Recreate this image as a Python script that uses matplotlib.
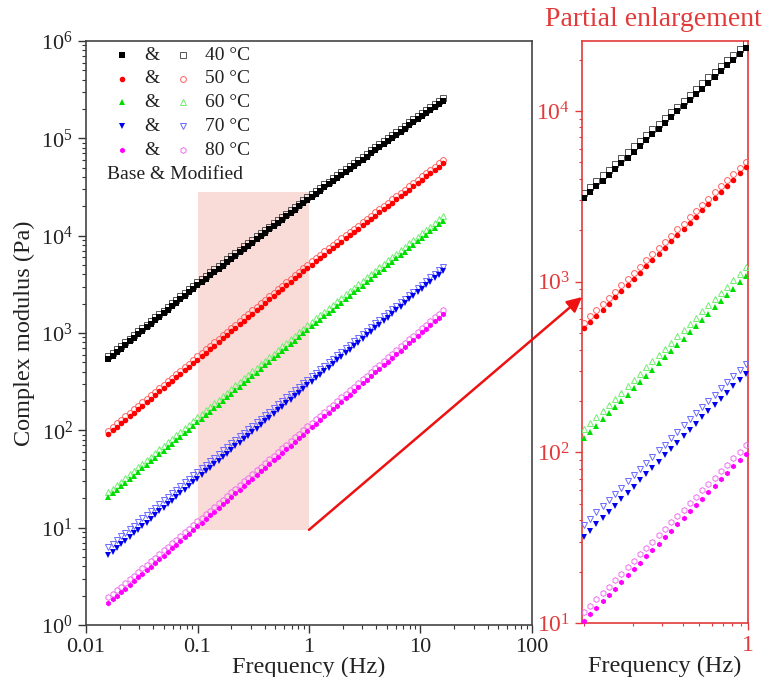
import matplotlib
matplotlib.use("Agg")
import matplotlib.pyplot as plt
from matplotlib.patches import Rectangle, ConnectionPatch
from matplotlib.ticker import LogLocator, NullFormatter, FixedLocator

plt.rcParams['font.family'] = ['Liberation Serif', 'DejaVu Serif']
plt.rcParams['mathtext.fontset'] = 'custom'
plt.rcParams['mathtext.rm'] = 'Liberation Serif'
plt.rcParams['mathtext.it'] = 'Liberation Serif:italic'

# frequency sweep (Hz)
freq = [0.0159, 0.01735, 0.01894, 0.02067, 0.02256, 0.02462, 0.02687, 0.02932, 0.032, 0.03493,
        0.03812, 0.0416, 0.0454, 0.04955, 0.05408, 0.05902, 0.06442, 0.0703, 0.07673, 0.08374,
        0.09139, 0.09974, 0.1089, 0.1188, 0.1297, 0.1415, 0.1544, 0.1685, 0.1839, 0.2008,
        0.2191, 0.2391, 0.261, 0.2848, 0.3108, 0.3392, 0.3702, 0.404, 0.441, 0.4813,
        0.5253, 0.5733, 0.6257, 0.6829, 0.7453, 0.8134, 0.8878, 0.969, 1.058, 1.154,
        1.26, 1.375, 1.501, 1.638, 1.787, 1.951, 2.129, 2.324, 2.536, 2.768,
        3.021, 3.297, 3.598, 3.927, 4.286, 4.678, 5.105, 5.572, 6.081, 6.637,
        7.244, 7.906, 8.628, 9.417, 10.28, 11.22, 12.24, 13.36, 14.58, 15.9]

# complex modulus (Pa), base binder
base_40 = [541, 587, 638, 693, 753, 819, 890, 968, 1050, 1140,
           1240, 1350, 1470, 1590, 1730, 1880, 2050, 2220, 2420, 2620,
           2850, 3100, 3350, 3620, 3910, 4230, 4560, 4930, 5330, 5770,
           6220, 6730, 7280, 7850, 8490, 9180, 9930, 10700, 11600, 12500,
           13500, 14600, 15800, 17100, 18500, 20000, 21600, 23300, 25100, 27000,
           29000, 31300, 33600, 36200, 39000, 41900, 45100, 48600, 52300, 56200,
           60500, 65100, 70100, 75400, 81200, 87400, 94000, 101000, 109000, 117000,
           126000, 136000, 146000, 157000, 169000, 182000, 196000, 211000, 227000, 244000]
base_50 = [92.0, 100, 109, 118, 129, 140, 152, 165, 180, 195,
           212, 231, 251, 273, 297, 322, 351, 381, 414, 450,
           490, 532, 579, 629, 684, 744, 809, 879, 956, 1040,
           1130, 1230, 1340, 1450, 1580, 1720, 1870, 2030, 2210, 2400,
           2610, 2830, 3080, 3350, 3640, 3960, 4300, 4680, 5050, 5460,
           5900, 6370, 6880, 7430, 8030, 8670, 9370, 10100, 10900, 11800,
           12800, 13800, 14900, 16100, 17400, 18800, 20300, 21900, 23600, 25500,
           27600, 29800, 32200, 34800, 37600, 40600, 43800, 47300, 51100, 55200]
base_60 = [20.7, 22.5, 24.5, 26.6, 29.0, 31.5, 34.3, 37.3, 40.6, 44.1,
           48.0, 52.2, 56.8, 61.7, 67.1, 73.0, 79.4, 86.4, 94.0, 102,
           111, 121, 132, 143, 156, 169, 184, 200, 218, 237,
           258, 280, 305, 332, 361, 392, 427, 464, 505, 549,
           597, 649, 706, 768, 836, 909, 989, 1080, 1170, 1260,
           1370, 1480, 1610, 1740, 1890, 2050, 2220, 2410, 2610, 2830,
           3070, 3320, 3600, 3900, 4230, 4590, 4970, 5390, 5840, 6330,
           6860, 7440, 8060, 8740, 9470, 10270, 11100, 12100, 13100, 14200]
base_70 = [5.20, 5.67, 6.18, 6.74, 7.35, 8.01, 8.73, 9.52, 10.4, 11.3,
           12.3, 13.4, 14.7, 16.0, 17.4, 19.0, 20.7, 22.6, 24.6, 26.8,
           29.2, 31.9, 34.7, 37.8, 41.1, 44.8, 48.7, 53.0, 57.7, 62.8,
           68.4, 74.4, 81.0, 88.1, 95.9, 104, 114, 124, 135, 147,
           160, 174, 189, 206, 224, 244, 265, 289, 314, 342,
           372, 405, 441, 480, 522, 568, 619, 673, 733, 798,
           868, 945, 1030, 1120, 1220, 1330, 1440, 1570, 1710, 1860,
           2030, 2210, 2400, 2610, 2840, 3100, 3370, 3670, 3990, 4350]
base_80 = [1.68, 1.83, 2.00, 2.18, 2.37, 2.59, 2.82, 3.08, 3.36, 3.66,
           3.99, 4.35, 4.75, 5.17, 5.64, 6.15, 6.71, 7.31, 7.98, 8.70,
           9.48, 10.3, 11.3, 12.3, 13.4, 14.6, 15.9, 17.4, 19.0, 20.7,
           22.5, 24.6, 26.8, 29.2, 31.9, 34.8, 37.9, 41.3, 45.1, 49.1,
           53.6, 58.4, 63.7, 69.5, 75.8, 82.6, 90.1, 98.2, 107, 117,
           127, 139, 151, 165, 180, 196, 214, 233, 255, 278,
           303, 330, 360, 393, 428, 467, 509, 555, 605, 660,
           719, 784, 855, 933, 1020, 1110, 1210, 1320, 1440, 1570]

# complex modulus (Pa), modified binder
mod_40 = [580, 629, 684, 743, 807, 878, 954, 1040, 1130, 1220,
          1330, 1450, 1580, 1700, 1850, 2020, 2200, 2380, 2590, 2810,
          3060, 3320, 3590, 3870, 4190, 4530, 4890, 5280, 5710, 6190,
          6670, 7210, 7800, 8420, 9100, 9840, 10600, 11500, 12400, 13400,
          14500, 15700, 16900, 18300, 19800, 21400, 23200, 25000, 26900, 28900,
          31100, 33600, 36000, 38800, 41800, 44900, 48300, 52100, 56100, 60200,
          64900, 69800, 75100, 80800, 87000, 93700, 101000, 108000, 117000, 125000,
          135000, 146000, 157000, 168000, 181000, 195000, 210000, 226000, 243000, 262000]
mod_50 = [99.4, 108, 118, 127, 139, 151, 164, 178, 194, 211,
          229, 249, 271, 295, 321, 348, 379, 411, 447, 486,
          529, 575, 625, 679, 739, 804, 874, 949, 1030, 1120,
          1220, 1330, 1450, 1570, 1710, 1860, 2020, 2190, 2390, 2590,
          2820, 3060, 3330, 3620, 3930, 4280, 4640, 5050, 5450, 5900,
          6370, 6880, 7430, 8020, 8670, 9360, 10100, 10900, 11800, 12700,
          13800, 14900, 16100, 17400, 18800, 20300, 21900, 23700, 25500, 27500,
          29800, 32200, 34800, 37600, 40600, 43800, 47300, 51100, 55200, 59600]
mod_60 = [23.2, 25.2, 27.4, 29.8, 32.5, 35.3, 38.4, 41.8, 45.5, 49.4,
          53.8, 58.5, 63.6, 69.1, 75.2, 81.8, 88.9, 96.8, 105, 114,
          124, 136, 148, 160, 175, 189, 206, 224, 244, 265,
          289, 314, 342, 372, 404, 439, 478, 520, 566, 615,
          669, 727, 791, 860, 936, 1020, 1110, 1210, 1310, 1410,
          1530, 1660, 1800, 1950, 2120, 2300, 2490, 2700, 2920, 3170,
          3440, 3720, 4030, 4370, 4740, 5140, 5570, 6040, 6540, 7090,
          7680, 8330, 9030, 9790, 10600, 11500, 12400, 13600, 14700, 15900]
mod_70 = [6.29, 6.85, 7.46, 8.13, 8.85, 9.64, 10.5, 11.4, 12.5, 13.5,
          14.7, 16.0, 17.5, 19.1, 20.7, 22.6, 24.6, 26.8, 29.2, 31.7,
          34.5, 37.7, 40.9, 44.5, 48.3, 52.6, 57.2, 62.1, 67.6, 73.4,
          79.9, 86.8, 94.4, 103, 111, 121, 132, 144, 156, 170,
          185, 201, 218, 237, 257, 280, 304, 331, 359, 390,
          424, 461, 501, 545, 592, 644, 701, 760, 828, 899,
          977, 1060, 1160, 1260, 1370, 1490, 1610, 1750, 1910, 2070,
          2260, 2460, 2660, 2890, 3140, 3430, 3720, 4040, 4390, 4780]
mod_80 = [1.92, 2.09, 2.28, 2.48, 2.7, 2.94, 3.21, 3.49, 3.81, 4.15,
          4.52, 4.92, 5.36, 5.84, 6.36, 6.93, 7.54, 8.22, 8.95, 9.75,
          10.6, 11.6, 12.6, 13.8, 15, 16.3, 17.8, 19.4, 21.2, 23.1,
          25.2, 27.5, 29.9, 32.6, 35.6, 38.8, 42.3, 46.1, 50.3, 54.8,
          59.8, 65.2, 71.1, 77.5, 84.5, 92.1, 100, 110, 119, 130,
          142, 155, 168, 184, 200, 218, 238, 259, 282, 308,
          335, 365, 398, 434, 473, 516, 562, 612, 667, 727,
          793, 864, 942, 1030, 1120, 1220, 1330, 1450, 1580, 1720]

temps = ['40 °C', '50 °C', '60 °C', '70 °C', '80 °C']
base_series = [base_40, base_50, base_60, base_70, base_80]
mod_series = [mod_40, mod_50, mod_60, mod_70, mod_80]
colors = ['#000000', '#ff0000', '#00dd00', '#0000ee', '#ff00ff']
open_colors = ['#555555', '#ff6060', '#70ee70', '#6a6aff', '#f070f0']
markers = ['s', 'o', '^', 'v', 'h']

fig = plt.figure(figsize=(7.66, 6.77), dpi=100)
ax = fig.add_axes([0.1123, 0.0768, 0.5822, 0.8626])
axi = fig.add_axes([0.7598, 0.0798, 0.2167, 0.8597])

for a in (ax, axi):
    for i in range(5):
        a.plot(freq, mod_series[i], linestyle='none', marker=markers[i], ms=4.2,
               mfc='none', mec=open_colors[i], mew=0.7, zorder=3)
        a.plot(freq, base_series[i], linestyle='none', marker=markers[i], ms=4.0,
               mfc=colors[i], mec=colors[i], mew=0, zorder=4)
    a.set_xscale('log')
    a.set_yscale('log')

# main axes
ax.set_xlim(0.01, 100)
ax.set_ylim(1, 1e6)
ax.set_xticks([0.01, 0.1, 1, 10, 100])
ax.set_xticklabels(['0.01', '0.1', '1', '10', '100'])
ax.xaxis.set_minor_locator(LogLocator(base=10, subs=range(2, 10), numticks=20))
ax.xaxis.set_minor_formatter(NullFormatter())
ax.yaxis.set_major_locator(LogLocator(base=10, numticks=10))
ax.yaxis.set_minor_locator(LogLocator(base=10, subs=range(2, 10), numticks=20))
ax.tick_params(which='major', direction='out', length=6, width=1, colors='#333333',
               labelsize=16, labelcolor='#222222')
ax.tick_params(which='minor', direction='out', length=3, width=0.8, colors='#333333')
for s in ax.spines.values():
    s.set_color('#444444')
    s.set_linewidth(1.2)
ax.set_xlabel('Frequency (Hz)', fontsize=17.5, color='#222222', labelpad=0)
ax.set_ylabel('Complex modulus (Pa)', fontsize=17.5, color='#222222', labelpad=4)

# shaded zoom region
ax.add_patch(Rectangle((0.1, 9.5), 0.9, 2.8e4 - 9.5, facecolor='#f9dcd8',
                       edgecolor='none', zorder=1))

# custom legend
row_y = [0.976, 0.935, 0.895, 0.854, 0.813]
for i in range(5):
    ax.plot([0.081], [row_y[i]], transform=ax.transAxes, linestyle='none',
            marker=markers[i], ms=4, mfc=colors[i], mec=colors[i], mew=0, clip_on=False)
    ax.text(0.148, row_y[i], '&', transform=ax.transAxes, ha='center', va='center',
            fontsize=14, color='#222222')
    ax.plot([0.217], [row_y[i]], transform=ax.transAxes, linestyle='none',
            marker=markers[i], ms=4.2, mfc='none', mec=open_colors[i], mew=0.7, clip_on=False)
    ax.text(0.266, row_y[i], temps[i], transform=ax.transAxes, ha='left', va='center',
            fontsize=14, color='#222222')
ax.text(0.046, 0.771, 'Base & Modified', transform=ax.transAxes, ha='left', va='center',
        fontsize=14, color='#222222')

# inset (partial enlargement)
red = '#e23a3a'
axi.set_xlim(0.097, 1.0)
axi.set_ylim(10, 2.57e4)
axi.xaxis.set_major_locator(FixedLocator([1]))
axi.set_xticklabels(['1'])
axi.xaxis.set_minor_locator(FixedLocator([0.1, 0.2, 0.3, 0.4, 0.5, 0.6, 0.7, 0.8, 0.9]))
axi.xaxis.set_minor_formatter(NullFormatter())
axi.yaxis.set_major_locator(LogLocator(base=10, numticks=10))
axi.yaxis.set_minor_locator(LogLocator(base=10, subs=range(2, 10), numticks=20))
axi.yaxis.set_minor_formatter(NullFormatter())
axi.tick_params(which='major', direction='out', length=5, width=1, colors=red,
                labelsize=17, labelcolor=red)
axi.tick_params(which='minor', direction='out', length=2.5, width=0.8, colors=red)
for s in axi.spines.values():
    s.set_color(red)
    s.set_linewidth(1.2)
axi.set_xlabel('Frequency (Hz)', fontsize=17.5, color='#222222', labelpad=0)
fig.text(0.853, 0.971, 'Partial enlargement', color=red, fontsize=20,
         ha='center', va='center')

# arrow from the shaded region to the enlargement
con = ConnectionPatch(xyA=(1.0, 9.5), coordsA=ax.transData,
                      xyB=(0.0, 0.56), coordsB=axi.transAxes,
                      arrowstyle='-|>', color='#ee1111', lw=1.8, mutation_scale=22)
fig.add_artist(con)

fig.savefig('out.png', dpi=100)
